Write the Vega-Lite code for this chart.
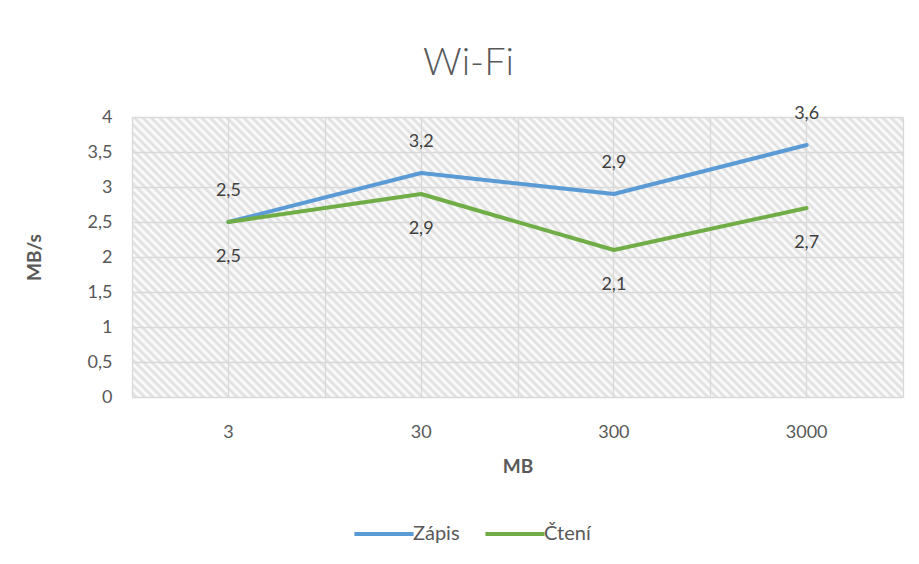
{
  "$schema": "https://vega.github.io/schema/vega-lite/v6.json",
  "width": 771,
  "height": 280,
  "autosize": "none",
  "padding": {"left": 132, "top": 117, "right": 16, "bottom": 167},
  "background": "white",
  "title": {"text": "Wi-Fi", "font": "Lato", "fontSize": 38, "fontWeight": 300, "color": "#595959", "anchor": "middle", "dx": -49, "offset": -8, "baseline": "alphabetic"},
  "data": {"values": [
    {"MB": "3", "serie": "Zápis", "MBs": 2.5},
    {"MB": "30", "serie": "Zápis", "MBs": 3.2},
    {"MB": "300", "serie": "Zápis", "MBs": 2.9},
    {"MB": "3000", "serie": "Zápis", "MBs": 3.6},
    {"MB": "3", "serie": "Čtení", "MBs": 2.5},
    {"MB": "30", "serie": "Čtení", "MBs": 2.9},
    {"MB": "300", "serie": "Čtení", "MBs": 2.1},
    {"MB": "3000", "serie": "Čtení", "MBs": 2.7}
  ]},
  "transform": [{"calculate": "replace(format(datum.MBs, '.1f'), '.', ',')", "as": "popis"}],
  "resolve": {"axis": {"x": "independent"}},
  "encoding": {
    "y": {"field": "MBs", "type": "quantitative", "scale": {"domain": [0, 4], "nice": false},
      "axis": {"title": "MB/s", "values": [0, 0.5, 1, 1.5, 2, 2.5, 3, 3.5, 4], "format": ".1~f", "labelExpr": "replace(datum.label, '.', ',')", "grid": true, "ticks": false, "domain": false, "labelPadding": 20, "titlePadding": 43}}
  },
  "layer": [
    {
      "mark": {"type": "line", "strokeWidth": 4, "strokeCap": "round", "strokeJoin": "round"},
      "encoding": {
        "x": {"field": "MB", "type": "ordinal", "sort": ["3", "30", "300", "3000"], "bandPosition": 0.5,
          "scale": {"type": "band", "paddingInner": 0, "paddingOuter": 0},
          "axis": {"orient": "bottom", "title": "MB", "grid": true, "tickBand": "center", "ticks": false, "domain": false, "labelAngle": 0, "labelPadding": 26, "titlePadding": 16}},
        "color": {"field": "serie", "type": "nominal", "sort": ["Zápis", "Čtení"],
          "scale": {"domain": ["Zápis", "Čtení"], "range": ["#5b9bd5", "#70ad47"]},
          "legend": {"title": null, "orient": "none", "direction": "horizontal", "legendX": 220, "legendY": 385, "padding": 0,
            "symbolType": "stroke", "symbolSize": 3500, "symbolStrokeWidth": 4, "labelOffset": -3, "columnPadding": 17,
            "labelFont": "Lato", "labelFontSize": 20, "labelColor": "#595959"}}
      }
    },
    {
      "transform": [{"filter": "datum.serie === 'Zápis'"}],
      "mark": {"type": "text", "dy": -31, "baseline": "middle", "font": "Lato", "fontSize": 18, "color": "#404040"},
      "encoding": {
        "x": {"field": "MB", "type": "ordinal", "sort": ["3", "30", "300", "3000"], "bandPosition": 0.5,
          "axis": {"orient": "top", "title": null, "grid": true, "tickBand": "extent", "labels": false, "ticks": false, "domain": false}},
        "text": {"field": "popis", "type": "nominal"}
      }
    },
    {
      "transform": [{"filter": "datum.serie === 'Čtení'"}],
      "mark": {"type": "text", "dy": 35, "baseline": "middle", "font": "Lato", "fontSize": 18, "color": "#404040"},
      "encoding": {
        "x": {"field": "MB", "type": "ordinal", "sort": ["3", "30", "300", "3000"], "bandPosition": 0.5, "axis": null},
        "text": {"field": "popis", "type": "nominal"}
      }
    }
  ],
  "config": {
    "font": "Lato",
    "axis": {"labelFont": "Lato", "labelFontSize": 18, "labelColor": "#595959", "titleFont": "Lato", "titleFontSize": 19, "titleFontWeight": "bold", "titleColor": "#595959", "gridColor": "#d9d9d9", "gridWidth": 1.3},
    "view": {"stroke": null, "fill": {"gradient": "linear", "x1": 0, "y1": 1, "x2": 1.2043, "y2": 0.5626, "stops": [
      {"offset":0,"color":"#fff"},{"offset":0.004,"color":"#ddd"},{"offset":0.008,"color":"#fff"},{"offset":0.012,"color":"#ddd"},{"offset":0.016,"color":"#fff"},{"offset":0.02,"color":"#ddd"},{"offset":0.024,"color":"#fff"},{"offset":0.028,"color":"#ddd"},{"offset":0.032,"color":"#fff"},{"offset":0.036,"color":"#ddd"},{"offset":0.04,"color":"#fff"},{"offset":0.044,"color":"#ddd"},{"offset":0.048,"color":"#fff"},{"offset":0.052,"color":"#ddd"},{"offset":0.056,"color":"#fff"},{"offset":0.06,"color":"#ddd"},{"offset":0.064,"color":"#fff"},{"offset":0.068,"color":"#ddd"},{"offset":0.072,"color":"#fff"},{"offset":0.076,"color":"#ddd"},{"offset":0.08,"color":"#fff"},{"offset":0.084,"color":"#ddd"},{"offset":0.088,"color":"#fff"},{"offset":0.092,"color":"#ddd"},{"offset":0.096,"color":"#fff"},
      {"offset":0.1,"color":"#ddd"},{"offset":0.104,"color":"#fff"},{"offset":0.108,"color":"#ddd"},{"offset":0.112,"color":"#fff"},{"offset":0.116,"color":"#ddd"},{"offset":0.12,"color":"#fff"},{"offset":0.124,"color":"#ddd"},{"offset":0.128,"color":"#fff"},{"offset":0.132,"color":"#ddd"},{"offset":0.136,"color":"#fff"},{"offset":0.14,"color":"#ddd"},{"offset":0.144,"color":"#fff"},{"offset":0.148,"color":"#ddd"},{"offset":0.152,"color":"#fff"},{"offset":0.156,"color":"#ddd"},{"offset":0.16,"color":"#fff"},{"offset":0.164,"color":"#ddd"},{"offset":0.168,"color":"#fff"},{"offset":0.172,"color":"#ddd"},{"offset":0.176,"color":"#fff"},{"offset":0.18,"color":"#ddd"},{"offset":0.184,"color":"#fff"},{"offset":0.188,"color":"#ddd"},{"offset":0.192,"color":"#fff"},{"offset":0.196,"color":"#ddd"},
      {"offset":0.2,"color":"#fff"},{"offset":0.204,"color":"#ddd"},{"offset":0.208,"color":"#fff"},{"offset":0.212,"color":"#ddd"},{"offset":0.216,"color":"#fff"},{"offset":0.22,"color":"#ddd"},{"offset":0.224,"color":"#fff"},{"offset":0.228,"color":"#ddd"},{"offset":0.232,"color":"#fff"},{"offset":0.236,"color":"#ddd"},{"offset":0.24,"color":"#fff"},{"offset":0.244,"color":"#ddd"},{"offset":0.248,"color":"#fff"},{"offset":0.252,"color":"#ddd"},{"offset":0.256,"color":"#fff"},{"offset":0.26,"color":"#ddd"},{"offset":0.264,"color":"#fff"},{"offset":0.268,"color":"#ddd"},{"offset":0.272,"color":"#fff"},{"offset":0.276,"color":"#ddd"},{"offset":0.28,"color":"#fff"},{"offset":0.284,"color":"#ddd"},{"offset":0.288,"color":"#fff"},{"offset":0.292,"color":"#ddd"},{"offset":0.296,"color":"#fff"},
      {"offset":0.3,"color":"#ddd"},{"offset":0.304,"color":"#fff"},{"offset":0.308,"color":"#ddd"},{"offset":0.312,"color":"#fff"},{"offset":0.316,"color":"#ddd"},{"offset":0.32,"color":"#fff"},{"offset":0.324,"color":"#ddd"},{"offset":0.328,"color":"#fff"},{"offset":0.332,"color":"#ddd"},{"offset":0.336,"color":"#fff"},{"offset":0.34,"color":"#ddd"},{"offset":0.344,"color":"#fff"},{"offset":0.348,"color":"#ddd"},{"offset":0.352,"color":"#fff"},{"offset":0.356,"color":"#ddd"},{"offset":0.36,"color":"#fff"},{"offset":0.364,"color":"#ddd"},{"offset":0.368,"color":"#fff"},{"offset":0.372,"color":"#ddd"},{"offset":0.376,"color":"#fff"},{"offset":0.38,"color":"#ddd"},{"offset":0.384,"color":"#fff"},{"offset":0.388,"color":"#ddd"},{"offset":0.392,"color":"#fff"},{"offset":0.396,"color":"#ddd"},
      {"offset":0.4,"color":"#fff"},{"offset":0.404,"color":"#ddd"},{"offset":0.408,"color":"#fff"},{"offset":0.412,"color":"#ddd"},{"offset":0.416,"color":"#fff"},{"offset":0.42,"color":"#ddd"},{"offset":0.424,"color":"#fff"},{"offset":0.428,"color":"#ddd"},{"offset":0.432,"color":"#fff"},{"offset":0.436,"color":"#ddd"},{"offset":0.44,"color":"#fff"},{"offset":0.444,"color":"#ddd"},{"offset":0.448,"color":"#fff"},{"offset":0.452,"color":"#ddd"},{"offset":0.456,"color":"#fff"},{"offset":0.46,"color":"#ddd"},{"offset":0.464,"color":"#fff"},{"offset":0.468,"color":"#ddd"},{"offset":0.472,"color":"#fff"},{"offset":0.476,"color":"#ddd"},{"offset":0.48,"color":"#fff"},{"offset":0.484,"color":"#ddd"},{"offset":0.488,"color":"#fff"},{"offset":0.492,"color":"#ddd"},{"offset":0.496,"color":"#fff"},
      {"offset":0.5,"color":"#ddd"},{"offset":0.504,"color":"#fff"},{"offset":0.508,"color":"#ddd"},{"offset":0.512,"color":"#fff"},{"offset":0.516,"color":"#ddd"},{"offset":0.52,"color":"#fff"},{"offset":0.524,"color":"#ddd"},{"offset":0.528,"color":"#fff"},{"offset":0.532,"color":"#ddd"},{"offset":0.536,"color":"#fff"},{"offset":0.54,"color":"#ddd"},{"offset":0.544,"color":"#fff"},{"offset":0.548,"color":"#ddd"},{"offset":0.552,"color":"#fff"},{"offset":0.556,"color":"#ddd"},{"offset":0.56,"color":"#fff"},{"offset":0.564,"color":"#ddd"},{"offset":0.568,"color":"#fff"},{"offset":0.572,"color":"#ddd"},{"offset":0.576,"color":"#fff"},{"offset":0.58,"color":"#ddd"},{"offset":0.584,"color":"#fff"},{"offset":0.588,"color":"#ddd"},{"offset":0.592,"color":"#fff"},{"offset":0.596,"color":"#ddd"},
      {"offset":0.6,"color":"#fff"},{"offset":0.604,"color":"#ddd"},{"offset":0.608,"color":"#fff"},{"offset":0.612,"color":"#ddd"},{"offset":0.616,"color":"#fff"},{"offset":0.62,"color":"#ddd"},{"offset":0.624,"color":"#fff"},{"offset":0.628,"color":"#ddd"},{"offset":0.632,"color":"#fff"},{"offset":0.636,"color":"#ddd"},{"offset":0.64,"color":"#fff"},{"offset":0.644,"color":"#ddd"},{"offset":0.648,"color":"#fff"},{"offset":0.652,"color":"#ddd"},{"offset":0.656,"color":"#fff"},{"offset":0.66,"color":"#ddd"},{"offset":0.664,"color":"#fff"},{"offset":0.668,"color":"#ddd"},{"offset":0.672,"color":"#fff"},{"offset":0.676,"color":"#ddd"},{"offset":0.68,"color":"#fff"},{"offset":0.684,"color":"#ddd"},{"offset":0.688,"color":"#fff"},{"offset":0.692,"color":"#ddd"},{"offset":0.696,"color":"#fff"},
      {"offset":0.7,"color":"#ddd"},{"offset":0.704,"color":"#fff"},{"offset":0.708,"color":"#ddd"},{"offset":0.712,"color":"#fff"},{"offset":0.716,"color":"#ddd"},{"offset":0.72,"color":"#fff"},{"offset":0.724,"color":"#ddd"},{"offset":0.728,"color":"#fff"},{"offset":0.732,"color":"#ddd"},{"offset":0.736,"color":"#fff"},{"offset":0.74,"color":"#ddd"},{"offset":0.744,"color":"#fff"},{"offset":0.748,"color":"#ddd"},{"offset":0.752,"color":"#fff"},{"offset":0.756,"color":"#ddd"},{"offset":0.76,"color":"#fff"},{"offset":0.764,"color":"#ddd"},{"offset":0.768,"color":"#fff"},{"offset":0.772,"color":"#ddd"},{"offset":0.776,"color":"#fff"},{"offset":0.78,"color":"#ddd"},{"offset":0.784,"color":"#fff"},{"offset":0.788,"color":"#ddd"},{"offset":0.792,"color":"#fff"},{"offset":0.796,"color":"#ddd"},
      {"offset":0.8,"color":"#fff"},{"offset":0.804,"color":"#ddd"},{"offset":0.808,"color":"#fff"},{"offset":0.812,"color":"#ddd"},{"offset":0.816,"color":"#fff"},{"offset":0.82,"color":"#ddd"},{"offset":0.824,"color":"#fff"},{"offset":0.828,"color":"#ddd"},{"offset":0.832,"color":"#fff"},{"offset":0.836,"color":"#ddd"},{"offset":0.84,"color":"#fff"},{"offset":0.844,"color":"#ddd"},{"offset":0.848,"color":"#fff"},{"offset":0.852,"color":"#ddd"},{"offset":0.856,"color":"#fff"},{"offset":0.86,"color":"#ddd"},{"offset":0.864,"color":"#fff"},{"offset":0.868,"color":"#ddd"},{"offset":0.872,"color":"#fff"},{"offset":0.876,"color":"#ddd"},{"offset":0.88,"color":"#fff"},{"offset":0.884,"color":"#ddd"},{"offset":0.888,"color":"#fff"},{"offset":0.892,"color":"#ddd"},{"offset":0.896,"color":"#fff"},
      {"offset":0.9,"color":"#ddd"},{"offset":0.904,"color":"#fff"},{"offset":0.908,"color":"#ddd"},{"offset":0.912,"color":"#fff"},{"offset":0.916,"color":"#ddd"},{"offset":0.92,"color":"#fff"},{"offset":0.924,"color":"#ddd"},{"offset":0.928,"color":"#fff"},{"offset":0.932,"color":"#ddd"},{"offset":0.936,"color":"#fff"},{"offset":0.94,"color":"#ddd"},{"offset":0.944,"color":"#fff"},{"offset":0.948,"color":"#ddd"},{"offset":0.952,"color":"#fff"},{"offset":0.956,"color":"#ddd"},{"offset":0.96,"color":"#fff"},{"offset":0.964,"color":"#ddd"},{"offset":0.968,"color":"#fff"},{"offset":0.972,"color":"#ddd"},{"offset":0.976,"color":"#fff"},{"offset":0.98,"color":"#ddd"},{"offset":0.984,"color":"#fff"},{"offset":0.988,"color":"#ddd"},{"offset":0.992,"color":"#fff"},{"offset":0.996,"color":"#ddd"},
      {"offset":1,"color":"#fff"}
    ]}}
  }
}
